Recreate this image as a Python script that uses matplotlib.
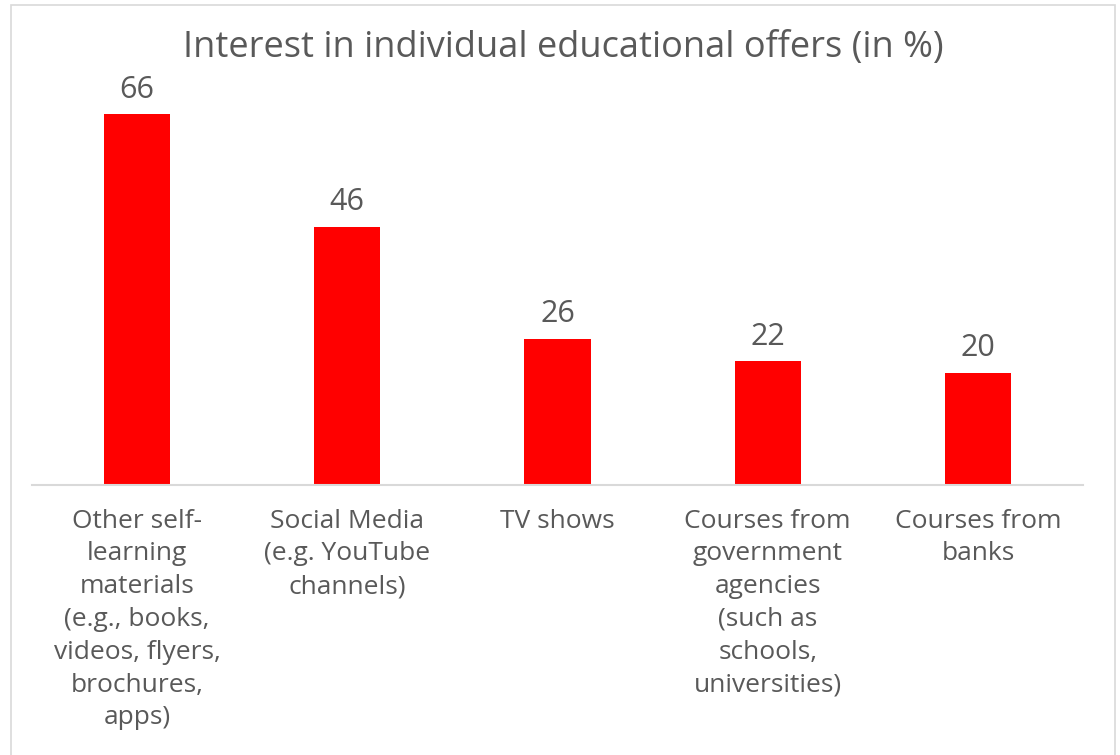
import matplotlib
matplotlib.use("Agg")
import matplotlib.pyplot as plt
from matplotlib.patches import Rectangle

categories = [
    "Other self-\nlearning\nmaterials\n(e.g., books,\nvideos, flyers,\nbrochures,\napps)",
    "Social Media\n(e.g. YouTube\nchannels)",
    "TV shows",
    "Courses from\ngovernment\nagencies\n(such as\nschools,\nuniversities)",
    "Courses from\nbanks",
]
values = [66, 46, 26, 22, 20]
title = "Interest in individual educational offers (in %)"

text_color = "#595959"
bar_color = "#ff0000"
grid_color = "#d9d9d9"

plt.rcParams["font.family"] = ["Open Sans", "DejaVu Sans"]

W, H = 1120, 755
fig = plt.figure(figsize=(W / 100, H / 100), dpi=100)
fig.patch.set_facecolor("white")

# chart area frame
fig.add_artist(Rectangle((11 / W, -0.01), (1115 - 11) / W, (H - 5) / H + 0.01,
                         transform=fig.transFigure, fill=False,
                         edgecolor=grid_color, linewidth=1.2))

ax = fig.add_axes([32 / W, (H - 485) / H, (1083 - 32) / W, (485 - 92) / H])
x = range(len(values))
bars = ax.bar(x, values, width=0.315, color=bar_color)

ax.set_xlim(-0.5, len(values) - 0.5)
ax.set_ylim(0, 70)
ax.set_yticks([])
for side in ("top", "right", "left"):
    ax.spines[side].set_visible(False)
ax.spines["bottom"].set_color(grid_color)
ax.spines["bottom"].set_linewidth(1.5)

ax.set_xticks(list(x))
ax.set_xticklabels(categories, fontsize=19, color=text_color, linespacing=1.41,
                   va="top", ha="center")
ax.tick_params(axis="x", length=0, pad=17)

for rect, v in zip(bars, values):
    ax.annotate(f"{v}", (rect.get_x() + rect.get_width() / 2, v),
                xytext=(0, 7), textcoords="offset points",
                ha="center", va="bottom", fontsize=22, color=text_color)

fig.text(563 / W, 1 - 48 / H, title, ha="center", va="center",
         fontsize=26, color=text_color)

fig.savefig("out.png", dpi=100, facecolor="white")
